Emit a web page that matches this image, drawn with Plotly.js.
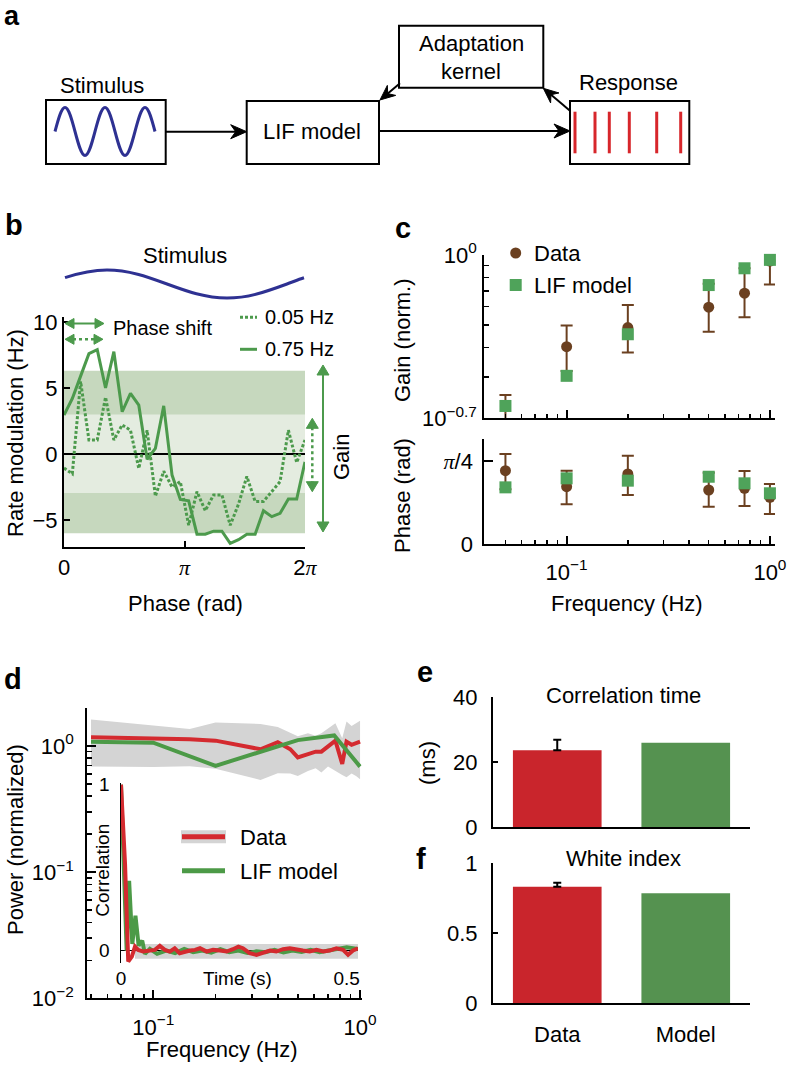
<!DOCTYPE html>
<html><head><meta charset="utf-8">
<script src="https://cdn.plot.ly/plotly-3.0.1.min.js"></script>
<style>html,body{margin:0;padding:0;background:#fff;}#chart{width:788px;height:1067px;}</style>
</head><body><div id="chart"></div>
<script>
// ---------- Panel b: rate modulation vs phase ----------
const phaseB = [0, 0.217, 0.433, 0.65, 0.867, 1.083, 1.3, 1.517, 1.733, 1.95, 2.167, 2.383, 2.6, 2.817, 3.033, 3.25, 3.467, 3.683, 3.9, 4.117, 4.333, 4.55, 4.767, 4.983, 5.2, 5.417, 5.633, 5.85, 6.067, 6.283];
const rate075 = [2.95, 4.2, 5.9, 7.6, 7.9, 5.0, 7.75, 3.2, 4.6, 3.7, -0.4, 0.43, 3.65, -1.6, -3.45, -3.55, -6.08, -6.08, -5.85, -5.85, -6.78, -6.5, -6.08, -6.08, -4.3, -4.75, -4.5, -3.42, -3.42, -0.6];
const rate005 = [-1.07, -1.5, 5.5, 1.06, 1.06, 4.3, 1.06, 2.2, 1.8, -1.1, 1.8, -3.2, -1.3, -2.5, -2.1, -5.4, -2.85, -4.3, -3.1, -3.1, -5.4, -3.8, -1.7, -3.6, -3.6, -2.85, -2.1, 1.8, -0.65, 1.06];
const bandOuter = [-6.0, 6.3];
const bandInner = [-2.95, 3.0];
const seriesB = ['0.05 Hz', '0.75 Hz'];

// ---------- Panel c: gain and phase vs frequency ----------
const freqC = [0.05, 0.1, 0.2, 0.5, 0.75, 1.0];
const gainData = [0.225, 0.404, 0.488, 0.597, 0.686, 0.942];
const gainDataHi = [0.251, 0.498, 0.610, 0.752, 0.877, 1.135];
const gainDataLo = [0.198, 0.318, 0.382, 0.468, 0.541, 0.748];
const gainModel = [0.225, 0.303, 0.457, 0.743, 0.877, 0.953];
const phaseData = [0.694, 0.543, 0.663, 0.512, 0.528, 0.443];
const phaseDataHi = [0.851, 0.694, 0.835, 0.675, 0.691, 0.569];
const phaseDataLo = [0.518, 0.377, 0.465, 0.355, 0.361, 0.286];
const phaseModel = [0.537, 0.622, 0.600, 0.637, 0.575, 0.481];

// ---------- Panel d: power spectrum + inset autocorrelation ----------
const freqD = [0.05, 0.1, 0.15, 0.2, 0.33, 0.4, 0.46, 0.5, 0.56, 0.61, 0.65, 0.7, 0.76, 0.82, 0.86, 0.91, 0.96, 1.0];
const powerData = [1.17, 1.15, 1.13, 1.10, 0.94, 1.07, 0.94, 0.81, 0.865, 0.90, 0.90, 0.99, 1.10, 0.72, 1.08, 1.02, 1.05, 1.08];
const powerHi = [1.62, 1.45, 1.36, 1.53, 1.49, 1.41, 1.26, 1.19, 1.26, 1.20, 1.26, 1.38, 1.51, 1.15, 1.56, 1.44, 1.53, 1.58];
const powerLo = [0.685, 0.68, 0.69, 0.66, 0.537, 0.608, 0.603, 0.578, 0.631, 0.665, 0.615, 0.685, 0.631, 0.589, 0.565, 0.603, 0.575, 0.545];
const powerModel = [1.08, 1.06, 0.695, 1.11, 1.21, 0.685];

const timeRed = [0, 0.009, 0.016, 0.024, 0.031, 0.038, 0.049, 0.064, 0.075, 0.086, 0.097, 0.108, 0.119, 0.13, 0.142, 0.153, 0.164, 0.175, 0.19, 0.204, 0.219, 0.234, 0.248, 0.26, 0.27, 0.285, 0.30, 0.315, 0.33, 0.344, 0.359, 0.374, 0.389, 0.403, 0.418, 0.433, 0.448, 0.462, 0.477, 0.492, 0.503, 0.514, 0.525];
const corrRed = [1.0, 0.52, -0.066, -0.036, 0.024, 0.004, -0.006, 0, 0.004, 0.028, 0.004, -0.006, 0.014, -0.016, -0.006, 0, 0.004, 0.014, -0.006, 0.004, 0, -0.006, 0.008, 0.024, 0.014, -0.016, -0.026, -0.012, 0, -0.006, 0.008, 0.014, 0.004, 0, -0.006, 0.004, -0.006, 0, 0.014, 0.004, -0.026, 0, 0.014];
const timeGreen = [0, 0.007, 0.0125, 0.018, 0.025, 0.032, 0.039, 0.047, 0.053, 0.064, 0.08, 0.1, 0.12, 0.14, 0.16, 0.18, 0.2, 0.22, 0.24, 0.26, 0.28, 0.3, 0.32, 0.34, 0.36, 0.38, 0.4, 0.42, 0.44, 0.46, 0.48, 0.5, 0.525];
const corrGreen = [1.0, 0.5, 0.0, 0.42, 0.04, 0.21, 0.03, 0.06, -0.02, 0.01, -0.02, 0.0, -0.015, 0.01, -0.01, 0.0, -0.012, 0.008, -0.01, 0.0, -0.015, -0.005, -0.01, 0.005, -0.012, 0.0, -0.008, 0.005, -0.01, 0.0, 0.01, 0.02, 0.01];
const insetBandT = [0.031, 0.525];
const insetBandC = [-0.05, 0.04];

// ---------- Panels e, f ----------
const barLabels = ['Data', 'Model'];
const corrTime = [23.7, 26.0];
const corrTimeErr = [3.2, 0];
const whiteIndex = [0.833, 0.786];
const whiteIndexErr = [0.028, 0];

// ---------- styling ----------
const FONT = 'Liberation Sans, Arial, Helvetica, sans-serif';
const SERIF = 'Liberation Serif';
const GREEN = '#4c9a4c', BAND_DARK = '#c6d8be', BAND_LIGHT = '#e4ece0';
const BROWN = '#6b4020', SQ_GREEN = '#4fa35a';
const RED = '#d42a2f', GREEN_D = '#4c9a47', GRAY = '#d4d4d4';
const RED_BAR = '#c9252c', GREEN_BAR = '#559250', NAVY = '#2e3192';
const W = 788, H = 1067;
const fx = p => p / W, fy = p => 1 - p / H;
const dx = (a, b) => [a / W, b / W];
const dy = (top, bot) => [1 - bot / H, 1 - top / H];
const PI_T = '<span style="font-family:' + SERIF + '"><i>π</i></span>';

function ax(o) {
  return Object.assign({
    showgrid: false, zeroline: false, showline: true, linecolor: '#000', linewidth: 2,
    ticks: 'inside', tickcolor: '#000', tickwidth: 2, ticklen: 6,
    tickfont: {family: FONT, size: 22, color: '#000'}, fixedrange: true
  }, o);
}
function T(text, x, y, size, extra) {
  return Object.assign({xref: 'paper', yref: 'paper', x: fx(x), y: fy(y), text: text, showarrow: false,
    xanchor: 'center', yanchor: 'middle', font: {family: FONT, size: size || 22, color: '#000'}}, extra || {});
}
function pathPx(cmds) {
  let out = '', isX = true;
  for (const c of cmds) {
    if (typeof c === 'string') { out += c + ' '; isX = true; }
    else { out += (isX ? fx(c) : fy(c)).toFixed(5) + ' '; isX = !isX; }
  }
  return out.trim();
}
function pathShape(cmds, color, width, fill) {
  return {type: 'path', xref: 'paper', yref: 'paper', path: pathPx(cmds),
    line: {color: color, width: width}, fillcolor: fill || 'rgba(0,0,0,0)'};
}
function lineShape(x0, y0, x1, y1, color, width, dash) {
  return {type: 'line', xref: 'paper', yref: 'paper', x0: fx(x0), y0: fy(y0), x1: fx(x1), y1: fy(y1),
    line: {color: color, width: width, dash: dash || 'solid'}};
}
function rectShape(x0, y0, x1, y1, color, width) {
  return {type: 'rect', xref: 'paper', yref: 'paper', x0: fx(x0), y0: fy(y0), x1: fx(x1), y1: fy(y1),
    line: {color: color, width: width}, fillcolor: 'rgba(0,0,0,0)'};
}
function head(tx, ty, ux, uy, L, Wd, notch, color) {
  const n = Math.hypot(ux, uy); ux /= n; uy /= n;
  const px = -uy, py = ux, bx = tx - ux * L, by = ty - uy * L;
  return pathShape(['M', tx, ty, 'L', bx + px * Wd, by + py * Wd, 'L', tx - ux * (L - notch), ty - uy * (L - notch),
    'L', bx - px * Wd, by - py * Wd, 'Z'], color, 1, color);
}
function arrow(x0, y0, x1, y1, color, width, L, Wd, notch, dash) {
  const ux = x1 - x0, uy = y1 - y0, n = Math.hypot(ux, uy);
  const ex = x1 - ux / n * (L - notch - 1), ey = y1 - uy / n * (L - notch - 1);
  return [lineShape(x0, y0, ex, ey, color, width, dash), head(x1, y1, ux, uy, L, Wd, notch, color)];
}
function dblArrow(x0, y0, x1, y1, color, width, L, Wd, dash) {
  const ux = x1 - x0, uy = y1 - y0, n = Math.hypot(ux, uy);
  return [lineShape(x0 + ux / n * (L - 1), y0 + uy / n * (L - 1), x1 - ux / n * (L - 1), y1 - uy / n * (L - 1), color, width, dash),
    head(x0, y0, -ux, -uy, L, Wd, 0, color), head(x1, y1, ux, uy, L, Wd, 0, color)];
}
function sineCmds(x0, mid, A, w, n, dir) {
  const c = ['M', x0, mid]; let x = x0, s = dir;
  for (let k = 0; k < n; k++) {
    if (k % 2 === 0) c.push('C', x + 0.3343 * w, mid + s * 0.5251 * A, x + 0.6381 * w, mid + s * A, x + w, mid + s * A);
    else { c.push('C', x + 0.3619 * w, mid + s * A, x + 0.6657 * w, mid + s * 0.5251 * A, x + w, mid); s = -s; }
    x += w;
  }
  return c;
}

// ---------- traces ----------
const traces = [];
// b
traces.push({x: phaseB, y: rate005, xaxis: 'x', yaxis: 'y', mode: 'lines', name: seriesB[0],
  line: {color: GREEN, width: 3, dash: '3px,2px'}});
traces.push({x: phaseB, y: rate075, xaxis: 'x', yaxis: 'y', mode: 'lines', name: seriesB[1],
  line: {color: GREEN, width: 3}});
// c gain
const eb = (hi, v) => hi.map((h, i) => h - v[i]);
const ebm = (lo, v) => v.map((x, i) => x - lo[i]);
traces.push({x: freqC, y: gainData, xaxis: 'x2', yaxis: 'y2', mode: 'markers', name: 'Data', cliponaxis: false,
  marker: {symbol: 'circle', size: 11, color: BROWN},
  error_y: {type: 'data', symmetric: false, array: eb(gainDataHi, gainData), arrayminus: ebm(gainDataLo, gainData), color: BROWN, thickness: 2, width: 6}});
traces.push({x: freqC, y: gainModel, xaxis: 'x2', yaxis: 'y2', mode: 'markers', name: 'LIF model', cliponaxis: false,
  marker: {symbol: 'square', size: 12, color: SQ_GREEN}});
// c phase
traces.push({x: freqC, y: phaseData, xaxis: 'x3', yaxis: 'y3', mode: 'markers', name: 'Data', cliponaxis: false,
  marker: {symbol: 'circle', size: 11, color: BROWN},
  error_y: {type: 'data', symmetric: false, array: eb(phaseDataHi, phaseData), arrayminus: ebm(phaseDataLo, phaseData), color: BROWN, thickness: 2, width: 6}});
traces.push({x: freqC, y: phaseModel, xaxis: 'x3', yaxis: 'y3', mode: 'markers', name: 'LIF model', cliponaxis: false,
  marker: {symbol: 'square', size: 12, color: SQ_GREEN}});
// d main
traces.push({x: freqD.concat(freqD.slice().reverse()), y: powerHi.concat(powerLo.slice().reverse()),
  xaxis: 'x4', yaxis: 'y4', mode: 'lines', fill: 'toself', fillcolor: GRAY, line: {width: 0, color: GRAY}, hoverinfo: 'skip'});
traces.push({x: freqD, y: powerData, xaxis: 'x4', yaxis: 'y4', mode: 'lines', name: 'Data', line: {color: RED, width: 4}});
traces.push({x: freqC, y: powerModel, xaxis: 'x4', yaxis: 'y4', mode: 'lines', name: 'LIF model', line: {color: GREEN_D, width: 4}});
// d inset
traces.push({x: timeGreen, y: corrGreen, xaxis: 'x5', yaxis: 'y5', mode: 'lines', name: 'LIF model', line: {color: GREEN_D, width: 4}});
traces.push({x: timeRed, y: corrRed, xaxis: 'x5', yaxis: 'y5', mode: 'lines', name: 'Data', line: {color: RED, width: 4}});
// e
traces.push({type: 'bar', x: [barLabels[0]], y: [corrTime[0]], xaxis: 'x6', yaxis: 'y6', width: 0.69, marker: {color: RED_BAR},
  error_y: {type: 'data', symmetric: false, array: [corrTimeErr[0]], arrayminus: [0], color: '#000', thickness: 2, width: 4}});
traces.push({type: 'bar', x: [barLabels[1]], y: [corrTime[1]], xaxis: 'x6', yaxis: 'y6', width: 0.69, marker: {color: GREEN_BAR}});
// f
traces.push({type: 'bar', x: [barLabels[0]], y: [whiteIndex[0]], xaxis: 'x7', yaxis: 'y7', width: 0.69, marker: {color: RED_BAR},
  error_y: {type: 'data', symmetric: false, array: [whiteIndexErr[0]], arrayminus: [0], color: '#000', thickness: 2, width: 4}});
traces.push({type: 'bar', x: [barLabels[1]], y: [whiteIndex[1]], xaxis: 'x7', yaxis: 'y7', width: 0.69, marker: {color: GREEN_BAR}});

// ---------- shapes ----------
let shapes = [];
// panel a
shapes.push(rectShape(46, 100, 165.7, 164, '#000', 2));
shapes.push(rectShape(246.7, 101, 379, 164, '#000', 2));
shapes.push(rectShape(399, 25.7, 543.3, 87.7, '#000', 2));
shapes.push(rectShape(570, 101, 689.3, 164, '#000', 2));
shapes.push(pathShape(sineCmds(55, 131.5, 24, 10, 10, -1), NAVY, 3));
[575, 595, 609.3, 629.3, 656.7, 680.7].forEach(x => shapes.push(lineShape(x, 111.7, x, 153.3, '#d7262b', 3)));
shapes = shapes.concat(arrow(165.7, 131.7, 246.7, 131.7, '#000', 2, 16, 7, 5));
shapes = shapes.concat(arrow(379, 131, 570, 131, '#000', 2, 16, 7, 5));
shapes = shapes.concat(arrow(400, 83.3, 380, 100, '#000', 2, 15, 6.5, 5));
shapes = shapes.concat(arrow(570, 110.7, 543.3, 88.3, '#000', 2, 15, 6.5, 5));
// panel b bands
shapes.push({type: 'rect', xref: 'x', yref: 'y', x0: phaseB[0], x1: phaseB[phaseB.length - 1], y0: bandOuter[0], y1: bandOuter[1],
  fillcolor: BAND_DARK, line: {width: 0}, layer: 'below'});
shapes.push({type: 'rect', xref: 'x', yref: 'y', x0: phaseB[0], x1: phaseB[phaseB.length - 1], y0: bandInner[0], y1: bandInner[1],
  fillcolor: BAND_LIGHT, line: {width: 0}, layer: 'below'});
// panel b stimulus curve
shapes.push(pathShape(['M', 65, 277.7, 'C', 79, 273.1, 93, 270, 107, 270, 'C', 128.7, 270, 146.9, 276.6, 167, 284,
  'C', 187.1, 291.4, 205.3, 298, 227, 298, 'C', 248.7, 298, 266.9, 291.4, 287, 284, 'C', 292.7, 281.9, 298.3, 279.5, 304, 277.7], NAVY, 3));
// panel b arrows
shapes = shapes.concat(dblArrow(65, 323.5, 104, 323.5, GREEN, 2, 9, 5));
shapes = shapes.concat(dblArrow(65, 339.3, 103, 339.3, GREEN, 2.5, 9, 5, 'dot'));
shapes = shapes.concat(dblArrow(323, 365, 323, 532, GREEN, 2, 10, 6));
shapes = shapes.concat(dblArrow(312.3, 418.3, 312.3, 491.7, GREEN, 2.5, 10, 6, 'dot'));
shapes.push(lineShape(240, 317.3, 257, 317.3, GREEN, 3, '3px,2px'));
shapes.push(lineShape(240, 349.3, 257, 349.3, GREEN, 3));
// panel c legend markers
shapes.push({type: 'circle', xref: 'paper', yref: 'paper', x0: fx(510.2), x1: fx(521.2), y0: fy(258.5), y1: fy(247.5), fillcolor: BROWN, line: {width: 0}});
shapes.push({type: 'rect', xref: 'paper', yref: 'paper', x0: fx(509.7), x1: fx(521.7), y0: fy(291), y1: fy(279), fillcolor: SQ_GREEN, line: {width: 0}});
// panel d inset band
shapes.push({type: 'rect', xref: 'x5', yref: 'y5', x0: insetBandT[0], x1: insetBandT[1], y0: insetBandC[0], y1: insetBandC[1],
  fillcolor: GRAY, line: {width: 0}, layer: 'below'});
// panel d legend
shapes.push(lineShape(181, 836.7, 226, 836.7, GRAY, 13));
shapes.push(lineShape(182, 836.7, 225, 836.7, RED, 5));
shapes.push(lineShape(182, 870.7, 225, 870.7, GREEN_D, 5));

// ---------- annotations ----------
const annotations = [
  T('<b>a</b>', 12, 16, 27), T('<b>b</b>', 14, 225, 29), T('<b>c</b>', 403, 228, 29),
  T('<b>d</b>', 13, 679, 29), T('<b>e</b>', 425, 672, 29), T('<b>f</b>', 421, 859, 29),
  // a
  T('Stimulus', 102, 86), T('LIF model', 312, 131), T('Adaptation', 471, 44), T('kernel', 471, 71), T('Response', 628, 82),
  // b
  T('Stimulus', 185, 255), T('Phase shift', 111, 328, 20, {xanchor: 'left'}),
  T(seriesB[0], 263, 317, 20, {xanchor: 'left'}), T(seriesB[1], 263, 349, 20, {xanchor: 'left'}),
  T('Gain', 342, 457, 22, {textangle: -90}),
  T('Rate modulation (Hz)', 15, 433, 22, {textangle: -90}), T('Phase (rad)', 185, 603),
  // c
  T('Data', 531.7, 253, 22, {xanchor: 'left'}), T('LIF model', 531.7, 285, 22, {xanchor: 'left'}),
  T('Gain (norm.)', 402, 341, 22, {textangle: -90}), T('Phase (rad)', 402, 496, 22, {textangle: -90}),
  T('Frequency (Hz)', 627, 603),
  // d
  T('Power (normalized)', 15, 840, 22, {textangle: -90}), T('Frequency (Hz)', 222, 1049),
  T('Correlation', 101.7, 870, 19, {textangle: -90}), T('Time (s)', 237.5, 978, 19),
  T('Data', 238, 837, 22, {xanchor: 'left'}), T('LIF model', 238, 871, 22, {xanchor: 'left'}),
  // e f
  T('Correlation time', 623, 695), T('White index', 623, 858), T('(ms)', 427, 763, 22, {textangle: -90})
];

// ---------- layout ----------
const logMinor = [0.05, 0.06, 0.07, 0.08, 0.09, 0.2, 0.3, 0.4, 0.5, 0.6, 0.7, 0.8, 0.9];
const layout = {
  width: W, height: H, margin: {l: 0, r: 0, t: 0, b: 0}, paper_bgcolor: '#fff', plot_bgcolor: 'rgba(0,0,0,0)',
  showlegend: false, barmode: 'overlay', font: {family: FONT, size: 22, color: '#000'},
  // b
  xaxis: ax({domain: dx(64, 305), range: [0, 2 * Math.PI], anchor: 'y', tickvals: [0, Math.PI, 2 * Math.PI],
    ticktext: ['0', PI_T, '2' + PI_T], ticklabelstandoff: 0}),
  yaxis: ax({domain: dy(317, 547), range: [-7.05, 10.38], anchor: 'x', tickvals: [-5, 0, 5, 10],
    zeroline: true, zerolinecolor: '#000', zerolinewidth: 2, ticklabelstandoff: 0}),
  // c gain
  xaxis2: ax({domain: dx(484.3, 775), type: 'log', range: [-1.405, 0.025], anchor: 'y2', tickvals: [0.1, 1],
    showticklabels: false, ticklen: 8, minor: {tickvals: logMinor, ticks: 'inside', ticklen: 4, tickwidth: 1.5, tickcolor: '#000'}}),
  yaxis2: ax({domain: dy(255, 418.3), type: 'log', range: [-0.7008, 0], anchor: 'x2', tickvals: [0.19953, 1],
    ticktext: ['10<sup>−0.7</sup>', '10<sup>0</sup>'], ticklen: 9, ticklabelstandoff: 1,
    minor: {tickvals: [0.3, 0.4, 0.5, 0.6, 0.7, 0.8, 0.9], ticks: 'inside', ticklen: 5, tickwidth: 1.5, tickcolor: '#000'}}),
  // c phase
  xaxis3: ax({domain: dx(484.3, 775), type: 'log', range: [-1.405, 0.025], anchor: 'y3', tickvals: [0.1, 1],
    ticktext: ['10<sup>−1</sup>', '10<sup>0</sup>'], ticklen: 8, ticklabelstandoff: 7,
    minor: {tickvals: logMinor, ticks: 'inside', ticklen: 4, tickwidth: 1.5, tickcolor: '#000'}}),
  yaxis3: ax({domain: dy(439.3, 544.3), range: [0, 0.99], anchor: 'x3', tickvals: [0, Math.PI / 4],
    ticktext: ['0', PI_T + '/4'], ticklen: 9, ticklabelstandoff: 5}),
  // d main
  xaxis4: ax({domain: dx(87.3, 361.7), type: 'log', range: [-1.319, 0.008], anchor: 'y4', tickvals: [0.1, 1],
    ticktext: ['10<sup>−1</sup>', '10<sup>0</sup>'], ticklen: 8, ticklabelstandoff: 8,
    minor: {tickvals: logMinor, ticks: 'inside', ticklen: 4, tickwidth: 1.5, tickcolor: '#000'}}),
  yaxis4: ax({domain: dy(708, 998.3), type: 'log', range: [-2, 0.30], anchor: 'x4', tickvals: [0.01, 0.1, 1],
    ticktext: ['10<sup>−2</sup>', '10<sup>−1</sup>', '10<sup>0</sup>'], ticklen: 9, ticklabelstandoff: 7,
    minor: {tickvals: [0.02, 0.03, 0.04, 0.05, 0.06, 0.07, 0.08, 0.09, 0.2, 0.3, 0.4, 0.5, 0.6, 0.7, 0.8, 0.9, 2],
      ticks: 'inside', ticklen: 5, tickwidth: 1.5, tickcolor: '#000'}}),
  // d inset
  xaxis5: ax({domain: dx(121, 358), range: [0, 0.525], anchor: 'y5', showline: false, ticks: '', tickvals: [0, 0.5],
    ticktext: ['0', '0.5'], tickfont: {family: FONT, size: 19, color: '#000'}, ticklabelstandoff: 2}),
  yaxis5: ax({domain: dy(783, 963), range: [-0.075, 1.01], anchor: 'x5', linewidth: 1.5, ticks: '', tickvals: [0, 1],
    tickfont: {family: FONT, size: 19, color: '#000'}, zeroline: true, zerolinecolor: '#000', zerolinewidth: 1.5, ticklabelstandoff: 6}),
  // e
  xaxis6: ax({domain: dx(493, 750), type: 'category', categoryorder: 'array', categoryarray: barLabels, range: [-0.5, 1.5],
    anchor: 'y6', ticks: '', showticklabels: false}),
  yaxis6: ax({domain: dy(697.3, 827.3), range: [0, 40], anchor: 'x6', tickvals: [0, 20, 40], ticklen: 5, ticklabelstandoff: 9}),
  // f
  xaxis7: ax({domain: dx(493, 750), type: 'category', categoryorder: 'array', categoryarray: barLabels, range: [-0.5, 1.5],
    anchor: 'y7', ticks: '', ticklabelstandoff: 10}),
  yaxis7: ax({domain: dy(863.3, 1003.3), range: [0, 1], anchor: 'x7', tickvals: [0, 0.5, 1], ticklen: 5, ticklabelstandoff: 9}),
  shapes: shapes,
  annotations: annotations
};

Plotly.newPlot('chart', traces, layout, {staticPlot: true, displayModeBar: false});
</script></body></html>
